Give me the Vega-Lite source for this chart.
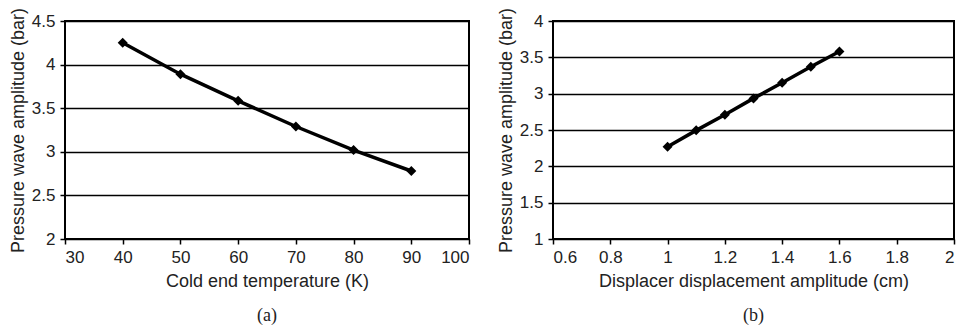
{
  "$schema": "https://vega.github.io/schema/vega-lite/v6.json",
  "padding": {"left": 8, "top": 6, "right": 2, "bottom": 2},
  "spacing": 25,
  "background": "white",
  "config": {
    "view": {"stroke": "black", "strokeWidth": 2},
    "axis": {
      "labelFont": "Liberation Sans",
      "labelFontSize": 17,
      "labelColor": "#222",
      "titleFont": "Liberation Sans",
      "titleFontSize": 18,
      "titleFontWeight": "normal",
      "titleColor": "#222",
      "domain": false,
      "tickColor": "black",
      "tickWidth": 1.5,
      "tickSize": 5,
      "labelPadding": 5,
      "gridColor": "black",
      "gridWidth": 1.3,
      "gridOpacity": 1
    },
    "title": {"font": "Liberation Serif", "fontSize": 18, "fontWeight": "normal", "color": "#222", "orient": "bottom", "offset": 17}
  },
  "datasets": {
    "a": [
      {"T": 40, "P": 4.25},
      {"T": 50, "P": 3.89},
      {"T": 60, "P": 3.585},
      {"T": 70, "P": 3.29},
      {"T": 80, "P": 3.02},
      {"T": 90, "P": 2.78}
    ],
    "b": [
      {"D": 1.0, "P": 2.27},
      {"D": 1.1, "P": 2.495},
      {"D": 1.2, "P": 2.71},
      {"D": 1.3, "P": 2.935},
      {"D": 1.4, "P": 3.15},
      {"D": 1.5, "P": 3.37},
      {"D": 1.6, "P": 3.58}
    ]
  },
  "hconcat": [
    {
      "width": 404,
      "height": 218,
      "title": "(a)",
      "data": {"name": "a"},
      "encoding": {
        "x": {"field": "T", "type": "quantitative",
          "scale": {"domain": [30, 100], "nice": false, "zero": false},
          "axis": {"values": [30, 40, 50, 60, 70, 80, 90, 100], "grid": false, "format": "d", "title": "Cold end temperature (K)", "titlePadding": 7}},
        "y": {"field": "P", "type": "quantitative",
          "scale": {"domain": [2, 4.5], "nice": false, "zero": false},
          "axis": {"values": [2, 2.5, 3, 3.5, 4, 4.5], "grid": true, "format": "~r", "title": "Pressure wave amplitude (bar)", "titlePadding": 4}}
      },
      "layer": [
        {"mark": {"type": "line", "color": "black", "strokeWidth": 3.5}},
        {"mark": {"type": "point", "shape": "diamond", "filled": true, "color": "black", "opacity": 1, "size": 100}}
      ]
    },
    {
      "width": 401,
      "height": 218,
      "title": "(b)",
      "data": {"name": "b"},
      "encoding": {
        "x": {"field": "D", "type": "quantitative",
          "scale": {"domain": [0.6, 2], "nice": false, "zero": false},
          "axis": {"values": [0.6, 0.8, 1, 1.2, 1.4, 1.6, 1.8, 2], "grid": false, "format": "~r", "title": "Displacer displacement amplitude (cm)", "titlePadding": 7}},
        "y": {"field": "P", "type": "quantitative",
          "scale": {"domain": [1, 4], "nice": false, "zero": false},
          "axis": {"values": [1, 1.5, 2, 2.5, 3, 3.5, 4], "grid": true, "format": "~r", "title": "Pressure wave amplitude (bar)", "titlePadding": 4}}
      },
      "layer": [
        {"mark": {"type": "line", "color": "black", "strokeWidth": 3.5}},
        {"mark": {"type": "point", "shape": "diamond", "filled": true, "color": "black", "opacity": 1, "size": 100}}
      ]
    }
  ]
}
